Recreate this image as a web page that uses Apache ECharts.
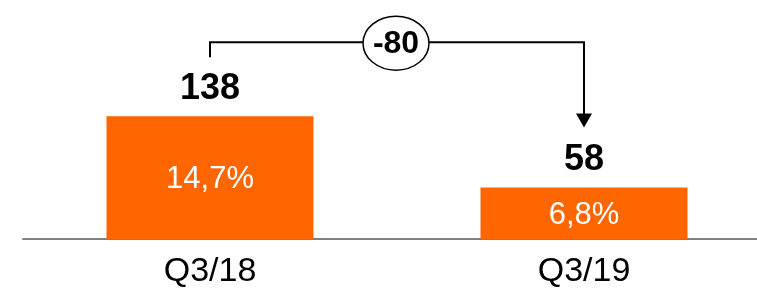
<!DOCTYPE html>
<html>
<head>
<meta charset="utf-8">
<script src="https://cdn.jsdelivr.net/npm/echarts@6/dist/echarts.min.js"></script>
<style>
  html, body { margin: 0; padding: 0; background: #fff; }
  #chart { width: 757px; height: 295px; }
</style>
</head>
<body>
<div id="chart"></div>
<script>
// 数据
const categories = ['Q3/18', 'Q3/19'];
const values = [138, 58];
const shares = ['14,7%', '6,8%'];

const FONT = '"Liberation Sans", Arial, sans-serif';
const ORANGE = '#FF6600';

const chart = echarts.init(document.getElementById('chart'));

chart.setOption({
  animation: false,
  // 网格右侧超出画布，关闭 outerBounds 约束
  grid: { left: 23, right: -14, top: 61, bottom: 56, outerBoundsMode: 'none', containLabel: false },
  xAxis: {
    type: 'category',
    data: categories,
    axisLine: { lineStyle: { color: '#808080', width: 2 } },
    axisTick: { show: false },
    axisLabel: { color: '#000', fontSize: 34, fontFamily: FONT, margin: 16 },
  },
  yAxis: { type: 'value', min: 0, max: 200, show: false },
  series: [
    {
      type: 'bar',
      data: values,
      barWidth: 207,
      itemStyle: { color: ORANGE },
      label: {
        show: true, position: 'top', distance: 9,
        color: '#000', fontSize: 36, fontWeight: 'bold', fontFamily: FONT,
      },
    },
    {
      // 柱内百分比标签（透明叠加）
      type: 'bar',
      data: values,
      barWidth: 207,
      barGap: '-100%',
      itemStyle: { color: 'transparent' },
      label: {
        show: true, position: 'inside', offset: [0, 2],
        formatter: (p) => shares[p.dataIndex],
        color: '#fff', fontSize: 31, fontFamily: FONT,
      },
    },
  ],
});

// 差值括号箭头：位置由坐标轴换算
const p1 = chart.convertToPixel({ gridIndex: 0 }, [0, values[0]]);
const p2 = chart.convertToPixel({ gridIndex: 0 }, [1, values[1]]);
const topY = p1[1] - 74;
const tipY = p2[1] - 60;
const cx = (p1[0] + p2[0]) / 2 - 1;

chart.setOption({
  graphic: [
    {
      type: 'polyline',
      shape: { points: [[p1[0], p1[1] - 59], [p1[0], topY], [p2[0], topY], [p2[0], tipY - 12]] },
      style: { stroke: '#000', lineWidth: 2, fill: null },
      z: 10,
    },
    {
      type: 'polygon',
      shape: { points: [[p2[0] - 8, tipY - 14], [p2[0] + 8, tipY - 14], [p2[0], tipY]] },
      style: { fill: '#000' },
      z: 10,
    },
    {
      type: 'ellipse',
      shape: { cx: cx, cy: topY + 1, rx: 33, ry: 27 },
      style: { fill: '#fff', stroke: '#000', lineWidth: 1.5 },
      z: 11,
    },
    {
      type: 'text',
      x: cx,
      y: topY + 2,
      style: {
        text: String(values[1] - values[0]),
        fill: '#000',
        font: 'bold 32px ' + FONT,
        align: 'center',
        verticalAlign: 'middle',
      },
      z: 12,
    },
  ],
});
</script>
</body>
</html>
